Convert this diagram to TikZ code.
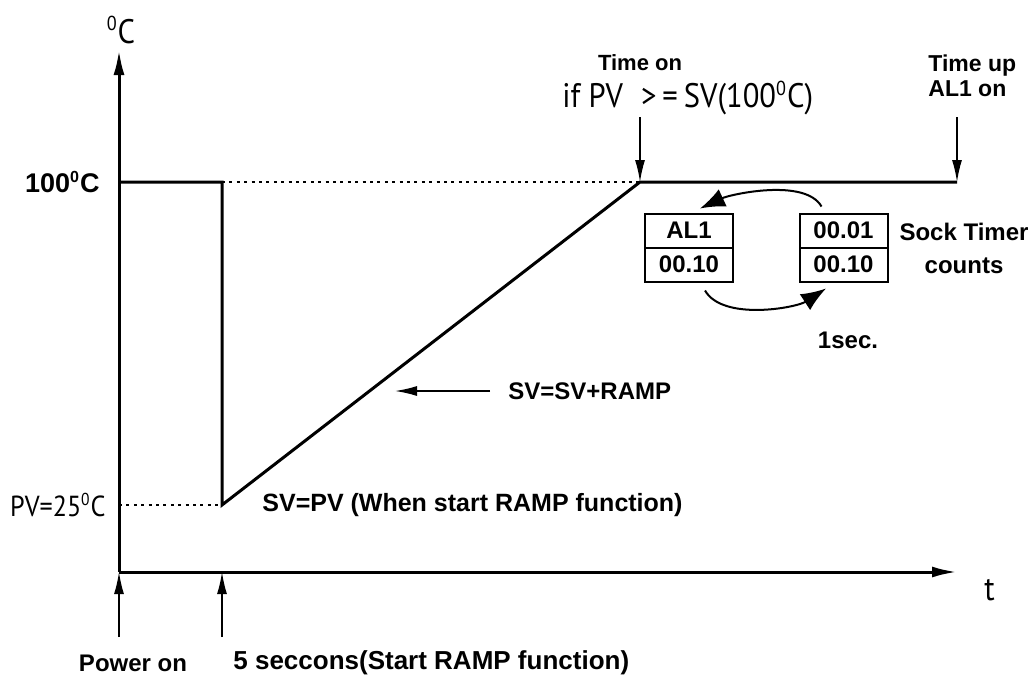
\documentclass[tikz,border=0pt]{standalone}
\usepackage{fontspec}
\setmainfont{Liberation Sans}
\newfontfamily\thinfont[FakeStretch=0.9]{PT Sans}
\usetikzlibrary{arrows.meta,positioning,calc}

\newcommand{\degsup}{\textsuperscript{\scalebox{0.85}{0}}}

\tikzset{
  axis/.style={line width=1.5pt, -{Latex[length=12.5pt,width=5.5pt]}},
  profile/.style={line width=1.5pt, line join=miter},
  guide/.style={line width=1pt, dash pattern=on 1.5pt off 2.2pt},
  marker/.style={line width=0.75pt, -{Latex[length=11pt,width=5pt]}},
  cycle/.style={line width=1pt, -{Latex[length=12.5pt,width=9.5pt]}},
  lbl/.style={font=\bfseries\fontsize{12}{14}\selectfont, inner sep=0pt},
  thinlbl/.style={font=\thinfont\fontsize{15}{17}\selectfont, inner sep=0pt},
  cell/.style={draw, line width=1pt, minimum width=44pt, minimum height=17pt, inner sep=0pt, font=\bfseries\fontsize{12}{14}\selectfont},
}

\begin{document}
\begin{tikzpicture}[x=0.5pt,y=-0.5pt]
\useasboundingbox (0,0) rectangle (1034,675);

% axes
\coordinate (origin) at (119,572);
\coordinate (ytip) at (119,50);
\coordinate (xtip) at (957,572);
\draw[axis] (origin) -- (ytip);
\draw[axis] (origin) -- (xtip);
\node[thinlbl, font=\thinfont\fontsize{17}{19}\selectfont] (degC) at (121,30) {\degsup C};
\node[thinlbl, font=\thinfont\fontsize{17}{19}\selectfont, anchor=west] (tlabel) at (984,590) {t};

% temperature profile
\coordinate (hstart) at (119,182);
\coordinate (drop) at (222,182);
\coordinate (low) at (222,505);
\coordinate (reach) at (640,182);
\coordinate (hend) at (957,182);
\draw[profile] (hstart) -- (drop) -- (low) -- (reach) -- (hend);
\draw[guide] (drop) -- (reach);
\draw[guide] (origin |- low) -- (low);

\node[lbl, font=\bfseries\fontsize{13.5}{15}\selectfont, anchor=east] (hundred) at (100,182) {100\degsup C};
\node[thinlbl, font=\thinfont\fontsize{14.5}{16}\selectfont, anchor=east] (pvlabel) at (106,505) {PV=25\degsup C};
\node[lbl, font=\bfseries\fontsize{12.5}{14}\selectfont, anchor=west] (svpv) at (262,505) {SV=PV (When start RAMP function)};
\node[lbl, anchor=west] (svramp) at (508,391) {SV=SV+RAMP};
\coordinate (svtip) at (395,391);
\draw[marker] ([xshift=-9pt]svramp.west) -- (svtip);

% time marks
\node[lbl] (poweron) at (133,663) {Power on};
\node[lbl, font=\bfseries\fontsize{13}{15}\selectfont, anchor=west] (startramp) at (233,663) {5 seccons(Start RAMP function)};
\coordinate (pwrfoot) at (119,637);
\coordinate (rampfoot) at (222,637);
\draw[marker] (pwrfoot) -- (origin);
\draw[marker] (rampfoot) -- (origin -| low);

\node[lbl, font=\bfseries\fontsize{11}{13}\selectfont] (timeon) at (640,63) {Time on};
\node[thinlbl, font=\thinfont\fontsize{17}{19}\selectfont, anchor=west] (ifpv) at (562,98) {if PV\hspace{9pt}>\hspace{3pt}=\hspace{3pt}SV(100\degsup C)};
\node[lbl, anchor=west, align=left, font=\bfseries\fontsize{11.5}{12.5}\selectfont] (timeup) at (928,76) {Time up\\AL1 on};
\coordinate (onfoot) at (640,117);
\coordinate (upfoot) at (957,117);
\draw[marker] (onfoot) -- (reach);
\draw[marker] (upfoot) -- (hend);

% display cells
\node[cell] (al1top) at (689,230.5) {AL1};
\node[cell, below=-1pt of al1top] (al1bot) {00.10};
\node[cell] (cnttop) at (843.5,230.5) {00.01};
\node[cell, below=-1pt of cnttop] (cntbot) {00.10};
\node[lbl, align=center, font=\bfseries\fontsize{12}{16.5}\selectfont] (sock) at (964,248) {Sock Timer\\counts};
\node[lbl] (onesec) at (848,340) {1sec.};

\draw[cycle] ([xshift=-11pt,yshift=3pt]cnttop.north) to[out=120,in=25,looseness=0.7] ([xshift=5.5pt,yshift=2pt]al1top.north);
\draw[cycle] ([xshift=8pt,yshift=-4pt]al1bot.south) to[out=-60,in=213,looseness=0.75] ([xshift=-8.75pt,yshift=-3pt]cntbot.south);
\end{tikzpicture}
\end{document}
